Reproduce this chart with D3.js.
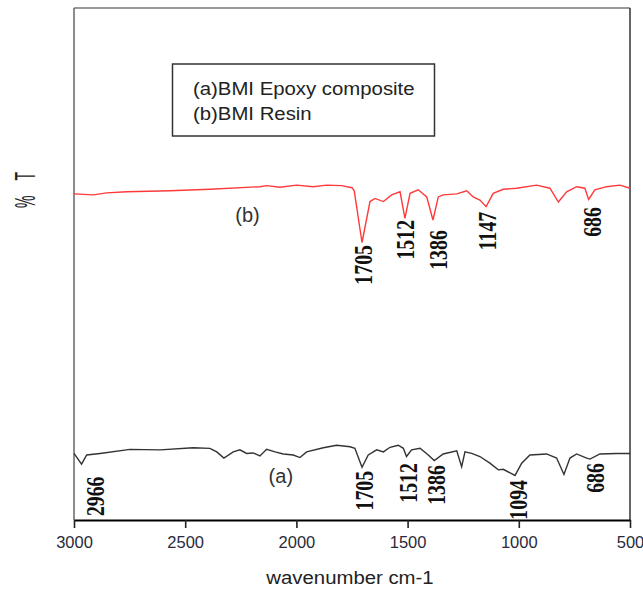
<!DOCTYPE html>
<html><head><meta charset="utf-8">
<script src="https://cdn.jsdelivr.net/npm/d3@7"></script>
<style>body{margin:0;background:#fff}svg{display:block}</style>
</head><body>
<svg id="c" width="643" height="592"></svg>
<script>
// x ticks
const xTicks = [3000, 2500, 2000, 1500, 1000, 500];
// (b) BMI Resin spectrum: [wavenumber, %T]
const resin = [[3000,63.7],[2913,63.5],[2853,63.9],[2763,64.1],[2568,64.3],[2388,64.6],[2164,65.1],[2134,65.3],[2074,65.0],[1999,65.4],[1924,65.1],[1864,65.4],[1796,65.3],[1750,64.9],[1740,64.3],[1705,54.2],[1669,62.2],[1647,62.8],[1609,62.2],[1572,63.5],[1534,64.1],[1512,58.9],[1489,63.8],[1452,64.5],[1414,63.1],[1386,58.6],[1362,63.1],[1340,63.5],[1279,63.7],[1234,64.3],[1205,63.1],[1175,62.5],[1147,61.2],[1115,63.8],[1070,64.6],[1010,64.8],[920,65.4],[860,64.8],[822,62.1],[785,64.1],[740,65.1],[703,64.8],[686,62.6],[658,64.5],[605,65.1],[545,65.4],[500,64.8]];
// (a) BMI Epoxy composite spectrum
const composite = [[3000,13.0],[2966,10.9],[2943,12.7],[2883,13.0],[2748,13.8],[2613,13.7],[2464,14.1],[2389,14.0],[2358,13.3],[2326,12.1],[2284,13.3],[2254,13.7],[2224,13.0],[2194,13.1],[2164,12.5],[2134,13.8],[2096,13.3],[2059,12.9],[2014,12.7],[1984,12.2],[1954,13.3],[1879,14.1],[1819,14.6],[1759,14.3],[1737,14.0],[1705,10.3],[1677,12.7],[1639,13.7],[1609,13.3],[1579,14.2],[1542,14.6],[1519,14.0],[1505,12.4],[1482,13.7],[1444,14.0],[1407,12.7],[1380,11.6],[1340,12.9],[1279,13.5],[1257,10.4],[1242,13.3],[1212,13.0],[1175,12.4],[1130,11.1],[1092,9.8],[1070,9.9],[1017,8.7],[987,11.1],[950,12.7],[875,12.9],[830,12.1],[797,8.9],[770,12.1],[740,12.9],[695,12.1],[680,11.9],[635,12.9],[560,13.0],[500,13.0]];
// peak labels: [text, wavenumber, %T at label top]
const resinPeaks = [["1705",1700,53.7],["1512",1510,58.6],["1386",1360,56.6],["1147",1139,60.2],["686",669,61.1]];
const compositePeaks = [["2966",2902,8.5],["1705",1692,9.6],["1512",1497,11.1],["1386",1370,10.7],["1094",1002,7.8],["686",654,11.1]];
// curve tags: [text, wavenumber, %T baseline]
const tags = [["(b)",2220,58.2],["(a)",2070,7.2]];
const legendItems = ["(a)BMI Epoxy composite", "(b)BMI Resin"];

const svg = d3.select("#c");
const L = 74, R = 630, T = 8, B = 520;
const x = d3.scaleLinear().domain([3000, 500]).range([L, R]);
const y = d3.scaleLinear().domain([0, 100]).range([B, T]);

// frame
svg.append("line").attr("x1", L).attr("x2", R).attr("y1", T).attr("y2", T).attr("stroke", "#777").attr("stroke-width", 1.5);
svg.append("line").attr("x1", L).attr("x2", L).attr("y1", T).attr("y2", B).attr("stroke", "#666").attr("stroke-width", 1.5);
svg.append("line").attr("x1", R).attr("x2", R).attr("y1", T).attr("y2", B).attr("stroke", "#333").attr("stroke-width", 1.5);

// x axis
const ax = svg.append("g").attr("transform", `translate(0,${B})`)
  .call(d3.axisBottom(x).tickValues(xTicks).tickFormat(d3.format("d")).tickSize(8).tickSizeOuter(0).tickPadding(8));
ax.select(".domain").attr("stroke", "#000").attr("stroke-width", 2.2);
ax.selectAll(".tick line").attr("stroke", "#222").attr("stroke-width", 1.6);
ax.selectAll(".tick text").attr("font-family", "Liberation Sans, Arial, sans-serif").attr("font-size", 16.5).attr("fill", "#2a2a3a");

// axis titles
svg.append("text").attr("transform", `translate(${(L + R) / 2 - 2},584) scale(1.1,1)`)
  .attr("text-anchor", "middle").attr("font-family", "Liberation Sans, Arial, sans-serif").attr("font-size", 18.5).attr("fill", "#222")
  .text("wavenumber cm-1");
svg.append("text").attr("transform", "translate(35,190) rotate(-90) scale(1,2.1)")
  .attr("text-anchor", "middle").attr("font-family", "Liberation Sans, Arial, sans-serif").attr("font-size", 14).attr("fill", "#222")
  .attr("textLength", 36).attr("lengthAdjust", "spacing")
  .text("% T");

// lines
const line = d3.line().x(d => x(d[0])).y(d => y(d[1]));
svg.append("path").datum(resin).attr("d", line).attr("fill", "none").attr("stroke", "#ff3a3a").attr("stroke-width", 1.4);
svg.append("path").datum(composite).attr("d", line).attr("fill", "none").attr("stroke", "#333").attr("stroke-width", 1.4);

// peak labels
const fs = 19.8, k = 1.3, capH = 0.66 * fs * k;
function peaks(arr) {
  svg.append("g").selectAll("text").data(arr).join("text")
    .attr("transform", d => `translate(${x(d[1]) + capH / 2},${y(d[2])}) rotate(-90) scale(1,${k})`)
    .attr("text-anchor", "end")
    .attr("font-family", "Liberation Serif, Times New Roman, serif").attr("font-weight", "bold")
    .attr("font-size", fs).attr("fill", "#111")
    .text(d => d[0]);
}
peaks(resinPeaks);
peaks(compositePeaks);

// tags
svg.append("g").selectAll("text").data(tags).join("text")
  .attr("x", d => x(d[1])).attr("y", d => y(d[2]))
  .attr("text-anchor", "middle").attr("font-family", "Liberation Sans, Arial, sans-serif").attr("font-size", 20).attr("fill", "#333")
  .text(d => d[0]);

// legend
const lg = svg.append("g");
lg.append("rect").attr("x", 172.5).attr("y", 64).attr("width", 262).attr("height", 72)
  .attr("fill", "#fff").attr("stroke", "#333").attr("stroke-width", 1.5);
lg.selectAll("text").data(legendItems).join("text")
  .attr("transform", (d, i) => `translate(193,${95 + i * 25}) scale(1.1,1)`)
  .attr("font-family", "Liberation Sans, Arial, sans-serif").attr("font-size", 18.5).attr("fill", "#222")
  .text(d => d);
</script>
</body></html>
